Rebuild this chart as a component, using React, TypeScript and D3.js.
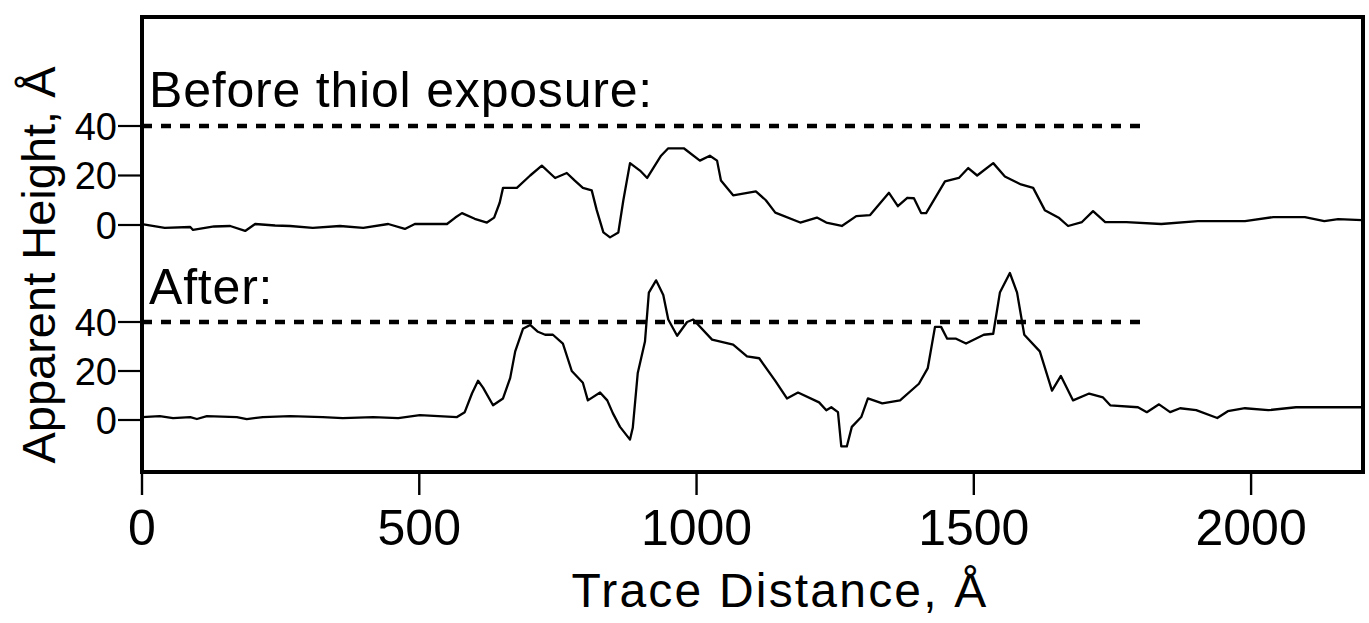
import React from "react";
import * as d3 from "d3";

// ---- data (trace distance in Å, apparent height in Å) ----
const beforeTrace: [number, number][] = [
  [0, 0.4], [41, -1.2], [87, -0.8], [92, -2], [130, -0.6], [159, -0.4], [186, -2.4], [204, 0.4],
  [240, -0.2], [267, -0.4], [308, -1.2], [357, -0.4], [399, -1.2], [444, 0.4], [474, -1.6], [492, 0.4],
  [550, 0.4], [565, 3], [577, 4.8], [600, 2.5], [622, 1], [635, 3], [645, 9], [651, 15], [676, 15],
  [700, 20], [721, 24], [745, 19], [766, 21], [780, 18], [795, 15], [811, 14], [820, 6], [832, -3],
  [844, -5], [859, -3], [868, 10], [880, 25], [898, 22], [911, 19], [936, 28], [949, 31], [977, 31],
  [1006, 26], [1024, 28], [1037, 26], [1044, 18], [1066, 12], [1107, 13.6], [1125, 10], [1142, 5],
  [1187, 1], [1217, 3], [1234, 1], [1262, -0.4], [1288, 3.6], [1313, 4], [1347, 13], [1363, 7.6],
  [1380, 11], [1392, 10.8], [1405, 4.8], [1414, 4.8], [1448, 17.6], [1473, 19], [1490, 23], [1506, 20],
  [1535, 25], [1556, 19.6], [1585, 16.4], [1607, 15], [1628, 6], [1654, 2.8], [1670, -0.4], [1695, 1.2],
  [1715, 5.6], [1737, 1.2], [1775, 1.2], [1838, 0.4], [1904, 1.6], [1989, 1.6], [2040, 3.2], [2097, 3.2],
  [2132, 1.6], [2157, 2.4], [2200, 2],
];

const afterTrace: [number, number][] = [
  [0, 1.2], [32, 1.6], [56, 0.8], [87, 1.2], [99, 0.4], [117, 1.6], [171, 1.2], [189, 0.4], [218, 1.2],
  [267, 1.6], [326, 1.2], [362, 0.8], [417, 1.2], [462, 0.8], [501, 2], [568, 1.2], [582, 3.2],
  [595, 10.8], [606, 16], [615, 13.2], [633, 6], [651, 8.8], [664, 17.2], [673, 28], [687, 37.2],
  [700, 38.8], [714, 36], [727, 34.8], [741, 34.8], [759, 31.2], [775, 20], [795, 15.2], [804, 8],
  [826, 11.2], [839, 8], [849, 2.8], [862, -2.8], [880, -8], [885, -3.2], [894, 19.2], [907, 32],
  [914, 52], [927, 57], [940, 51], [949, 41], [965, 34.4], [983, 40], [994, 41], [1028, 32.8],
  [1066, 30.8], [1091, 26], [1113, 25.2], [1142, 16], [1163, 8.8], [1183, 11.2], [1221, 7.2],
  [1234, 4], [1243, 5.2], [1255, 3.2], [1261, -10.8], [1271, -10.8], [1280, -2.8], [1297, 1.2],
  [1309, 8.8], [1335, 6.8], [1367, 8], [1401, 14.8], [1417, 21.2], [1430, 38], [1441, 38],
  [1452, 33.2], [1468, 33.2], [1486, 31.2], [1518, 34.8], [1535, 35.2], [1547, 52], [1565, 60],
  [1578, 52], [1591, 34.8], [1619, 28], [1641, 12], [1657, 18], [1679, 8], [1708, 10.8], [1733, 9.2],
  [1746, 6], [1796, 5.2], [1812, 3.2], [1834, 6.4], [1854, 3.2], [1872, 4.8], [1901, 4], [1939, 0.8],
  [1958, 3.6], [1989, 4.8], [2031, 4], [2081, 5.2], [2200, 5.2],
];

const xTickValues = [0, 500, 1000, 1500, 2000];
const yTickValues = [0, 20, 40];
const referenceLevel = 40;
const referenceEnd = 1800;
const xDomain = [0, 2200];
const panelLabels = ["Before thiol exposure:", "After:"];
const xTitle = "Trace Distance, Å";
const yTitle = "Apparent Height, Å";

const W = 1369;
const H = 623;
const FONT = "'Liberation Sans', Arial, Helvetica, sans-serif";

export default function App() {
  const x = d3.scaleLinear().domain(xDomain).range([142, 1362]);
  const yTop = d3.scaleLinear().domain([0, 40]).range([225, 126]);
  const yBot = d3.scaleLinear().domain([0, 40]).range([420, 322]);

  const lineTop = d3.line<[number, number]>().x((d) => x(d[0])).y((d) => yTop(d[1]));
  const lineBot = d3.line<[number, number]>().x((d) => x(d[0])).y((d) => yBot(d[1]));

  const frameTop = 17;
  const frameBottom = 472;
  const frameLeft = x(0);
  const frameRight = 1363;

  const panels = [
    { y: yTop, label: panelLabels[0], labelY: 107, path: lineTop(beforeTrace) },
    { y: yBot, label: panelLabels[1], labelY: 304, path: lineBot(afterTrace) },
  ];

  return (
    <svg
      width={W}
      height={H}
      viewBox={`0 0 ${W} ${H}`}
      style={{ position: "absolute", left: 0, top: 0, background: "#fff" }}
    >
      <rect x={0} y={0} width={W} height={H} fill="#fff" />
      {panels.map((p, i) => (
        <g key={i}>
          <line
            x1={x(0)}
            x2={x(referenceEnd)}
            y1={p.y(referenceLevel)}
            y2={p.y(referenceLevel)}
            stroke="#000"
            strokeWidth={4.5}
            strokeDasharray="10,9"
          />
          <path d={p.path || ""} fill="none" stroke="#000" strokeWidth={2.3} strokeLinejoin="round" />
          {yTickValues.map((t) => (
            <g key={t}>
              <line x1={118} x2={frameLeft} y1={p.y(t)} y2={p.y(t)} stroke="#000" strokeWidth={2.2} />
              <text
                x={117}
                y={p.y(t)}
                dy="0.36em"
                textAnchor="end"
                fontFamily={FONT}
                fontSize={38}
                fill="#000"
              >
                {t}
              </text>
            </g>
          ))}
          <text x={149} y={p.labelY} fontFamily={FONT} fontSize={50} letterSpacing={0.8} fill="#000">
            {p.label}
          </text>
        </g>
      ))}

      <rect
        x={frameLeft}
        y={frameTop}
        width={frameRight - frameLeft}
        height={frameBottom - frameTop}
        fill="none"
        stroke="#000"
        strokeWidth={4}
      />

      {xTickValues.map((t) => (
        <g key={t}>
          <line x1={x(t)} x2={x(t)} y1={frameBottom} y2={495} stroke="#000" strokeWidth={2.4} />
          <text x={x(t)} y={545} textAnchor="middle" fontFamily={FONT} fontSize={50} fill="#000">
            {t}
          </text>
        </g>
      ))}

      <text x={780} y={607} textAnchor="middle" fontFamily={FONT} fontSize={48} letterSpacing={2.2} fill="#000">
        {xTitle}
      </text>
      <text
        transform="translate(55,265) rotate(-90)"
        textAnchor="middle"
        fontFamily={FONT}
        fontSize={47}
        fill="#000"
      >
        {yTitle}
      </text>
    </svg>
  );
}
